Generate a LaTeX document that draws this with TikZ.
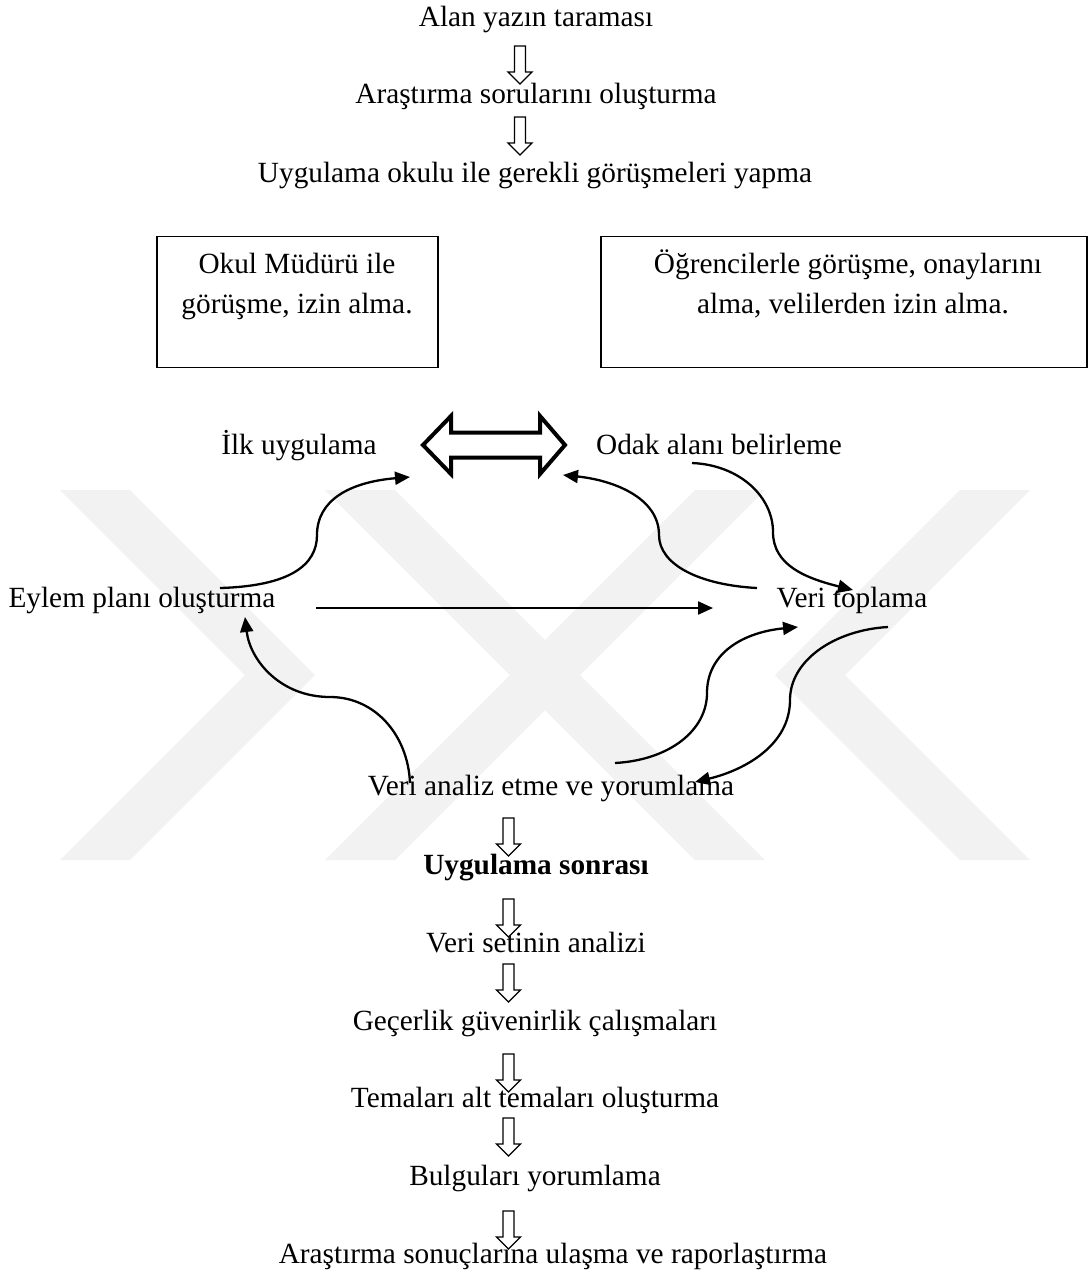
\documentclass[tikz,border=0pt]{standalone}
\usepackage{fontspec}
\setmainfont{Liberation Serif}
\usetikzlibrary{arrows.meta}
\tikzset{
  lbl/.style={inner sep=0pt, anchor=base, font=\fontsize{29.3}{34}\selectfont},
  boldlbl/.style={lbl, font=\fontsize{29.3}{34}\selectfont\bfseries},
  frame/.style={draw, line width=1.6pt},
  curvearr/.style={line width=2.3pt, -{Triangle[length=15pt,width=13pt]}},
  wmark/.style={fill=black!5, draw=none},
  pics/downarr/.style={code={
    \draw[line width=1.3pt, fill=white] (-5.5,0) -- (-5.5,26) -- (-12,26) -- (0,38) -- (12,26) -- (5.5,26) -- (5.5,0) -- cycle;
  }}
}
\begin{document}
\begin{tikzpicture}[x=1pt,y=-1pt]
\useasboundingbox (0,0) rectangle (1091,1272);
\fill[white] (0,0) rectangle (1091,1272);
% watermark (approximate)
\fill[wmark] (60,490) -- (130,490) -- (315,675) -- (130,860) -- (60,860) -- (245,675) -- cycle;
\fill[wmark] (1030,490) -- (960,490) -- (775,675) -- (960,860) -- (1030,860) -- (845,675) -- cycle;
\fill[wmark] (325,490) -- (395,490) -- (765,860) -- (695,860) -- cycle;
\fill[wmark] (695,490) -- (765,490) -- (395,860) -- (325,860) -- cycle;

% top chain
\node[lbl] (t1) at (536,26) {Alan yazın taraması};
\pic at (520,46) {downarr};
\node[lbl] (t2) at (536,103) {Araştırma sorularını oluşturma};
\pic at (520,117) {downarr};
\node[lbl] (t3) at (535,182) {Uygulama okulu ile gerekli görüşmeleri yapma};

% boxes
\node[frame, minimum width=281pt, minimum height=131pt, inner sep=0pt] (b1) at (297.5,302) {};
\node[frame, minimum width=486pt, minimum height=131pt, inner sep=0pt] (b2) at (844,302) {};
\node[lbl] (b1a) at (297,273) {Okul Müdürü ile};
\node[lbl] (b1b) at (297,313) {görüşme, izin alma.};
\node[lbl] (b2a) at (848,273) {Öğrencilerle görüşme, onaylarını};
\node[lbl] (b2b) at (853,313) {alma, velilerden izin alma.};

% cycle labels
\node[lbl] (ilk) at (299,454) {İlk uygulama};
\node[lbl] (odak) at (719,454) {Odak alanı belirleme};
\node[lbl] (eylem) at (142,607) {Eylem planı oluşturma};
\node[lbl] (veri) at (852,607) {Veri toplama};
\node[lbl] (analiz) at (551,795) {Veri analiz etme ve yorumlama};

% double block arrow
\draw[line width=4pt, line join=miter, fill=white] (423,445) -- (451,416) -- (451,432.5) -- (540,432.5) -- (540,416) -- (565,445) -- (540,474) -- (540,457.5) -- (451,457.5) -- (451,474) -- cycle;

% curve end points
\coordinate (c1s) at (220,588);  \coordinate (c1e) at (410,477);
\coordinate (c2s) at (757,588);  \coordinate (c2e) at (563,475);
\coordinate (c3s) at (692,463);  \coordinate (c3e) at (853,590);
\coordinate (c4s) at (410,783);  \coordinate (c4e) at (245,617);
\coordinate (c5s) at (615,763);  \coordinate (c5e) at (798,627);
\coordinate (c6s) at (888,627);  \coordinate (c6e) at (695,782);
\coordinate (hs) at (316,608);   \coordinate (he) at (713,608);

\draw[curvearr] (c1s) .. controls (290,586) and (317,565) .. (317,535) .. controls (317,500) and (350,482) .. (c1e);
\draw[curvearr] (c2s) .. controls (700,585) and (659,565) .. (659,535) .. controls (659,497) and (612,480) .. (c2e);
\draw[curvearr] (c3s) .. controls (740,465) and (773,497) .. (773,532) .. controls (773,565) and (805,578) .. (c3e);
\draw[curvearr] (c4s) .. controls (408,735) and (375,697) .. (330,697) .. controls (280,697) and (250,660) .. (c4e);
\draw[curvearr] (c5s) .. controls (670,760) and (707,730) .. (707,693) .. controls (707,652) and (745,632) .. (c5e);
\draw[curvearr] (c6s) .. controls (835,630) and (790,660) .. (790,700) .. controls (790,745) and (745,770) .. (c6e);
\draw[curvearr] (hs) -- (he);

% lower chain
\pic at (508.5,818) {downarr};
\node[boldlbl] (us) at (536,874) {Uygulama sonrası};
\pic at (508.5,899) {downarr};
\node[lbl] (vs) at (536,952) {Veri setinin analizi};
\pic at (508.5,964) {downarr};
\node[lbl] (gg) at (535,1030) {Geçerlik güvenirlik çalışmaları};
\pic at (508.5,1054) {downarr};
\node[lbl] (ta) at (535,1107) {Temaları alt temaları oluşturma};
\pic at (508.5,1118) {downarr};
\node[lbl] (by) at (535,1185) {Bulguları yorumlama};
\pic at (508.5,1211) {downarr};
\node[lbl] (ar) at (553,1263) {Araştırma sonuçlarına ulaşma ve raporlaştırma};
\end{tikzpicture}
\end{document}
